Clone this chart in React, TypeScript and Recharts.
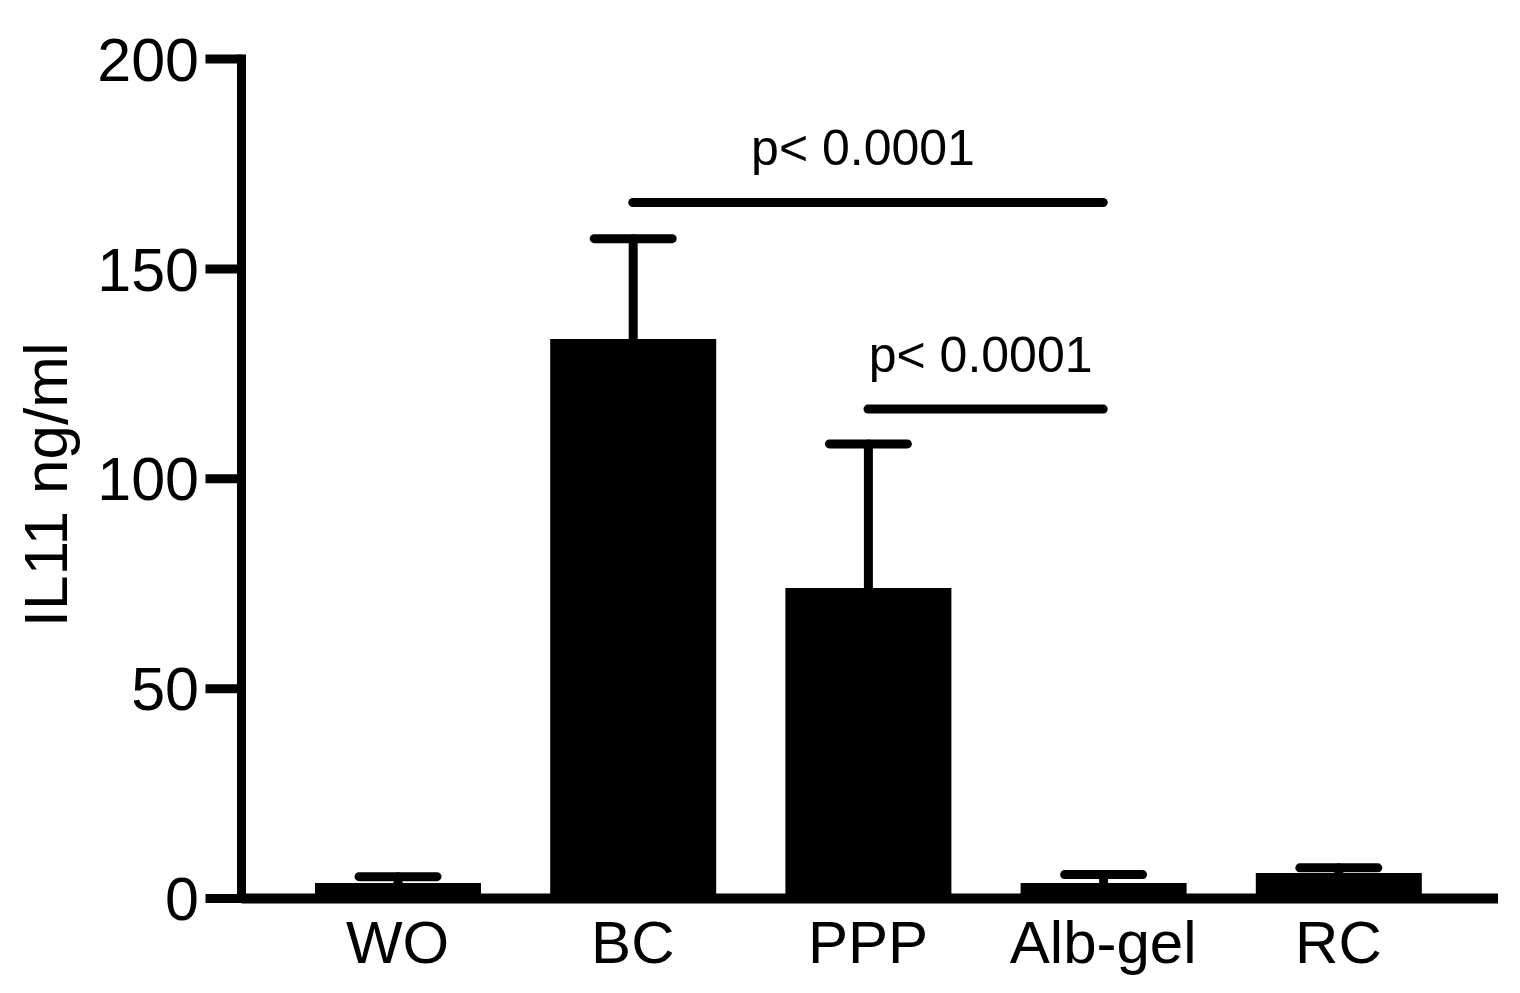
import React from 'react';
import { BarChart, Bar, XAxis, YAxis, ErrorBar, ReferenceLine } from 'recharts';

const groups = ['WO', 'BC', 'PPP', 'Alb-gel', 'RC'];
const means = [3.7, 133.3, 74.0, 3.7, 6.1];
const upperErr = [1.5, 23.9, 34.3, 2.0, 1.2];
const yTicks = [0, 50, 100, 150, 200];
const pLabel = 'p< 0.0001';

const font = '"Liberation Sans", Arial, sans-serif';

// only the upper whisker is shown; the lower one runs down inside the bar to the axis
const data = groups.map((g, i) => ({
  group: g,
  il11: means[i],
  err: [means[i], upperErr[i]],
}));

const YTitle = ({ viewBox }: any) => {
  const cy = viewBox.y + viewBox.height / 2 + 6;
  const x = 67;
  return (
    <text
      x={x}
      y={cy}
      transform={`rotate(-90 ${x} ${cy})`}
      textAnchor="middle"
      fontSize={62}
      fontFamily={font}
      fill="#000"
    >
      IL11 ng/ml
    </text>
  );
};

const App: React.FC = () => {
  return (
    <div style={{ position: 'absolute', left: 0, top: 0, width: 1520, height: 993, background: '#fff' }}>
      <BarChart
        width={1520}
        height={993}
        data={data}
        margin={{ top: 59, right: 22, bottom: 34.5, left: 0 }}
      >
        <XAxis
          dataKey="group"
          height={60}
          padding={{ left: 38.5, right: 42 }}
          axisLine={{ stroke: '#000', strokeWidth: 10 }}
          tickLine={false}
          tickSize={0}
          tickMargin={22}
          tick={{ fill: '#000', fontSize: 60, fontFamily: font }}
          interval={0}
        />
        <YAxis
          width={241.5}
          domain={[0, 200]}
          ticks={yTicks}
          interval={0}
          axisLine={{ stroke: '#000', strokeWidth: 9, strokeLinecap: 'square' }}
          tickLine={{ stroke: '#000', strokeWidth: 9 }}
          tickSize={36}
          tickMargin={6.5}
          tick={{ fill: '#000', fontSize: 61, fontFamily: font }}
          label={<YTitle />}
        />
        <Bar dataKey="il11" fill="#000" barSize={166} isAnimationActive={false}>
          <ErrorBar
            dataKey="err"
            direction="y"
            width={39}
            stroke="#000"
            strokeWidth={9}
            strokeLinecap="round"
            isAnimationActive={false}
          />
        </Bar>
        <ReferenceLine
          segment={[{ x: 'BC', y: 165.8 }, { x: 'Alb-gel', y: 165.8 }]}
          stroke="#000"
          strokeWidth={9}
          strokeLinecap="round"
          label={{ value: pLabel, position: 'top', offset: 37.5, dx: -5, fill: '#000', fontSize: 50, fontFamily: font }}
        />
        <ReferenceLine
          segment={[{ x: 'PPP', y: 116.6 }, { x: 'Alb-gel', y: 116.6 }]}
          stroke="#000"
          strokeWidth={9}
          strokeLinecap="round"
          label={{ value: pLabel, position: 'top', offset: 37.5, dx: -5, fill: '#000', fontSize: 50, fontFamily: font }}
        />
      </BarChart>
    </div>
  );
};

export default App;
